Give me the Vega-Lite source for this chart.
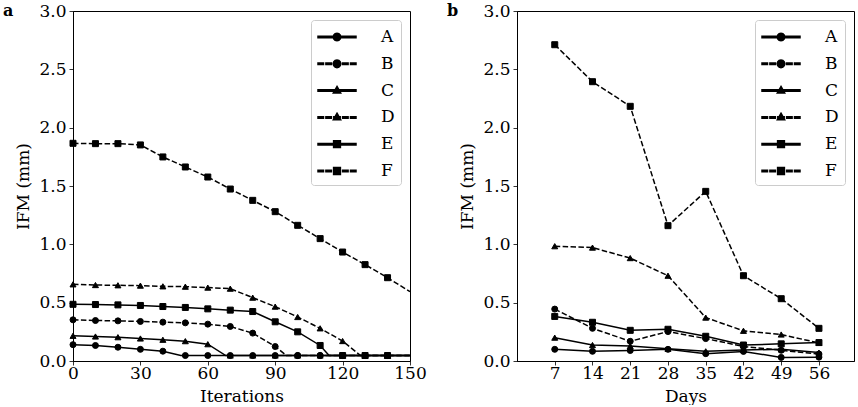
{
 "$schema": "https://vega.github.io/schema/vega-lite/v6.json",
 "padding": {"left": 2, "top": 1, "right": 2, "bottom": 0},
 "datasets": {
  "iter": [
   {"x":0,"y":0.14,"s":"A"},{"x":10,"y":0.133,"s":"A"},{"x":20,"y":0.118,"s":"A"},{"x":30,"y":0.1,"s":"A"},{"x":40,"y":0.084,"s":"A"},{"x":48,"y":0.047,"s":"A"},{"x":50,"y":0.047,"s":"A"},{"x":60,"y":0.047,"s":"A"},{"x":70,"y":0.047,"s":"A"},{"x":80,"y":0.047,"s":"A"},{"x":90,"y":0.047,"s":"A"},{"x":100,"y":0.047,"s":"A"},{"x":110,"y":0.047,"s":"A"},{"x":120,"y":0.047,"s":"A"},{"x":130,"y":0.047,"s":"A"},{"x":140,"y":0.047,"s":"A"},{"x":150,"y":0.047,"s":"A"},
   {"x":0,"y":0.353,"s":"B"},{"x":10,"y":0.347,"s":"B"},{"x":20,"y":0.344,"s":"B"},{"x":30,"y":0.339,"s":"B"},{"x":40,"y":0.333,"s":"B"},{"x":50,"y":0.327,"s":"B"},{"x":60,"y":0.316,"s":"B"},{"x":70,"y":0.296,"s":"B"},{"x":80,"y":0.239,"s":"B"},{"x":90,"y":0.124,"s":"B"},{"x":95,"y":0.047,"s":"B"},{"x":100,"y":0.047,"s":"B"},{"x":110,"y":0.047,"s":"B"},{"x":120,"y":0.047,"s":"B"},{"x":130,"y":0.047,"s":"B"},{"x":140,"y":0.047,"s":"B"},{"x":150,"y":0.047,"s":"B"},
   {"x":0,"y":0.216,"s":"C"},{"x":10,"y":0.21,"s":"C"},{"x":20,"y":0.204,"s":"C"},{"x":30,"y":0.193,"s":"C"},{"x":40,"y":0.182,"s":"C"},{"x":50,"y":0.17,"s":"C"},{"x":60,"y":0.144,"s":"C"},{"x":68,"y":0.047,"s":"C"},{"x":70,"y":0.047,"s":"C"},{"x":80,"y":0.047,"s":"C"},{"x":90,"y":0.047,"s":"C"},{"x":100,"y":0.047,"s":"C"},{"x":110,"y":0.047,"s":"C"},{"x":120,"y":0.047,"s":"C"},{"x":130,"y":0.047,"s":"C"},{"x":140,"y":0.047,"s":"C"},{"x":150,"y":0.047,"s":"C"},
   {"x":0,"y":0.657,"s":"D"},{"x":10,"y":0.651,"s":"D"},{"x":20,"y":0.649,"s":"D"},{"x":30,"y":0.646,"s":"D"},{"x":40,"y":0.64,"s":"D"},{"x":50,"y":0.637,"s":"D"},{"x":60,"y":0.629,"s":"D"},{"x":70,"y":0.62,"s":"D"},{"x":80,"y":0.543,"s":"D"},{"x":90,"y":0.466,"s":"D"},{"x":100,"y":0.377,"s":"D"},{"x":110,"y":0.28,"s":"D"},{"x":120,"y":0.171,"s":"D"},{"x":128,"y":0.047,"s":"D"},{"x":130,"y":0.047,"s":"D"},{"x":140,"y":0.047,"s":"D"},{"x":150,"y":0.047,"s":"D"},
   {"x":0,"y":0.486,"s":"E"},{"x":10,"y":0.484,"s":"E"},{"x":20,"y":0.481,"s":"E"},{"x":30,"y":0.476,"s":"E"},{"x":40,"y":0.467,"s":"E"},{"x":50,"y":0.459,"s":"E"},{"x":60,"y":0.447,"s":"E"},{"x":70,"y":0.436,"s":"E"},{"x":80,"y":0.424,"s":"E"},{"x":90,"y":0.336,"s":"E"},{"x":100,"y":0.25,"s":"E"},{"x":110,"y":0.133,"s":"E"},{"x":114,"y":0.047,"s":"E"},{"x":120,"y":0.047,"s":"E"},{"x":130,"y":0.047,"s":"E"},{"x":140,"y":0.047,"s":"E"},{"x":150,"y":0.047,"s":"E"},
   {"x":0,"y":1.866,"s":"F"},{"x":10,"y":1.863,"s":"F"},{"x":20,"y":1.863,"s":"F"},{"x":30,"y":1.852,"s":"F"},{"x":40,"y":1.749,"s":"F"},{"x":50,"y":1.663,"s":"F"},{"x":60,"y":1.577,"s":"F"},{"x":70,"y":1.474,"s":"F"},{"x":80,"y":1.377,"s":"F"},{"x":90,"y":1.28,"s":"F"},{"x":100,"y":1.163,"s":"F"},{"x":110,"y":1.049,"s":"F"},{"x":120,"y":0.934,"s":"F"},{"x":130,"y":0.826,"s":"F"},{"x":140,"y":0.714,"s":"F"},{"x":150,"y":0.594,"s":"F"}
  ],
  "days": [
   {"x":7,"y":0.1,"s":"A"},{"x":14,"y":0.083,"s":"A"},{"x":21,"y":0.09,"s":"A"},{"x":28,"y":0.1,"s":"A"},{"x":35,"y":0.063,"s":"A"},{"x":42,"y":0.082,"s":"A"},{"x":49,"y":0.031,"s":"A"},{"x":56,"y":0.033,"s":"A"},
   {"x":7,"y":0.445,"s":"B"},{"x":14,"y":0.28,"s":"B"},{"x":21,"y":0.169,"s":"B"},{"x":28,"y":0.252,"s":"B"},{"x":35,"y":0.192,"s":"B"},{"x":42,"y":0.125,"s":"B"},{"x":49,"y":0.092,"s":"B"},{"x":56,"y":0.06,"s":"B"},
   {"x":7,"y":0.2,"s":"C"},{"x":14,"y":0.137,"s":"C"},{"x":21,"y":0.128,"s":"C"},{"x":28,"y":0.105,"s":"C"},{"x":35,"y":0.083,"s":"C"},{"x":42,"y":0.095,"s":"C"},{"x":49,"y":0.1,"s":"C"},{"x":56,"y":0.072,"s":"C"},
   {"x":7,"y":0.984,"s":"D"},{"x":14,"y":0.972,"s":"D"},{"x":21,"y":0.882,"s":"D"},{"x":28,"y":0.731,"s":"D"},{"x":35,"y":0.372,"s":"D"},{"x":42,"y":0.259,"s":"D"},{"x":49,"y":0.227,"s":"D"},{"x":56,"y":0.155,"s":"D"},
   {"x":7,"y":0.382,"s":"E"},{"x":14,"y":0.332,"s":"E"},{"x":21,"y":0.263,"s":"E"},{"x":28,"y":0.272,"s":"E"},{"x":35,"y":0.212,"s":"E"},{"x":42,"y":0.137,"s":"E"},{"x":49,"y":0.147,"s":"E"},{"x":56,"y":0.158,"s":"E"},
   {"x":7,"y":2.711,"s":"F"},{"x":14,"y":2.394,"s":"F"},{"x":21,"y":2.183,"s":"F"},{"x":28,"y":1.16,"s":"F"},{"x":35,"y":1.454,"s":"F"},{"x":42,"y":0.731,"s":"F"},{"x":49,"y":0.534,"s":"F"},{"x":56,"y":0.28,"s":"F"}
  ]
 },
 "spacing": 107,
 "bounds": "flush",
 "resolve": {"scale": {"shape": "independent", "opacity": "independent"}, "legend": {"shape": "independent", "opacity": "independent"}},
 "hconcat": [
  {
   "width": 337, "height": 350,
   "title": {"text": "a"},
   "data": {"name": "iter"},
   "encoding": {
    "x": {"field": "x", "type": "quantitative", "scale": {"domain": [0, 150], "nice": false, "zero": false}, "axis": {"values": [0, 30, 60, 90, 120, 150], "title": "Iterations"}},
    "y": {"field": "y", "type": "quantitative", "scale": {"domain": [0, 3], "nice": false}, "axis": {"values": [0, 0.5, 1, 1.5, 2, 2.5, 3], "format": ".1f", "title": "IFM (mm)"}}
   },
   "layer": [
    {"transform": [{"filter": "datum.s === 'A' || datum.s === 'C' || datum.s === 'E'"}],
     "mark": {"type": "line", "color": "black", "strokeWidth": 1.5},
     "encoding": {"detail": {"field": "s"}}},
    {"transform": [{"filter": "datum.s === 'B' || datum.s === 'D' || datum.s === 'F'"}],
     "mark": {"type": "line", "color": "black", "strokeWidth": 1.5, "strokeDash": [5.5, 2.4]},
     "encoding": {"detail": {"field": "s"}}},
    {"transform": [{"filter": "datum.x % 10 === 0 && datum.x <= 140"}],
     "mark": {"type": "point", "filled": true, "color": "black", "stroke": "black", "strokeWidth": 1, "size": 36},
     "encoding": {
      "shape": {"field": "s", "type": "nominal", "scale": {"domain": ["A","B","C","D","E","F"], "range": ["circle","circle","triangle-up","triangle-up","square","square"]}, "legend": null},
      "opacity": {"field": "s", "type": "ordinal", "scale": {"range": [1, 1, 1, 1, 1, 1]},
       "legend": {"title": null, "orient": "top-right", "offset": 9, "symbolSize": 400, "symbolOffset": 9, "symbolFillColor": "black",
        "symbolType": {"expr": "(datum.value==='A'||datum.value==='C'||datum.value==='E' ? 'M-1.9,-0.075L1.9,-0.075L1.9,0.075L-1.9,0.075Z' : 'M-1.9,-0.075L-1.35,-0.075L-1.35,0.075L-1.9,0.075ZM-1.11,-0.075L-0.56,-0.075L-0.56,0.075L-1.11,0.075ZM-0.32,-0.075L0.32,-0.075L0.32,0.075L-0.32,0.075ZM0.56,-0.075L1.11,-0.075L1.11,0.075L0.56,0.075ZM1.35,-0.075L1.9,-0.075L1.9,0.075L1.35,0.075Z') + (datum.value==='A'||datum.value==='B' ? 'M0.38,0L0.329,0.19L0.19,0.329L0,0.38L-0.19,0.329L-0.329,0.19L-0.38,0L-0.329,-0.19L-0.19,-0.329L0,-0.38L0.19,-0.329L0.329,-0.19Z' : (datum.value==='C'||datum.value==='D' ? 'M0,-0.42L0.37,0.23L-0.37,0.23Z' : 'M-0.34,-0.34L0.34,-0.34L0.34,0.34L-0.34,0.34Z'))"},
        "labelOffset": 33, "rowPadding": 7.8, "padding": 6, "strokeColor": "#cccccc", "fillColor": "white", "cornerRadius": 3, "labelFontSize": 17, "labelFont": "DejaVu Serif", "labelColor": "black"}}}}
   ]
  },
  {
   "width": 337, "height": 350,
   "title": {"text": "b"},
   "data": {"name": "days"},
   "encoding": {
    "x": {"field": "x", "type": "quantitative", "scale": {"domain": [0, 62.5], "nice": false, "zero": false}, "axis": {"values": [7, 14, 21, 28, 35, 42, 49, 56], "title": "Days"}},
    "y": {"field": "y", "type": "quantitative", "scale": {"domain": [0, 3], "nice": false}, "axis": {"values": [0, 0.5, 1, 1.5, 2, 2.5, 3], "format": ".1f", "title": "IFM (mm)"}}
   },
   "layer": [
    {"transform": [{"filter": "datum.s === 'A' || datum.s === 'C' || datum.s === 'E'"}],
     "mark": {"type": "line", "color": "black", "strokeWidth": 1.5},
     "encoding": {"detail": {"field": "s"}}},
    {"transform": [{"filter": "datum.s === 'B' || datum.s === 'D' || datum.s === 'F'"}],
     "mark": {"type": "line", "color": "black", "strokeWidth": 1.5, "strokeDash": [5.5, 2.4]},
     "encoding": {"detail": {"field": "s"}}},
    {"mark": {"type": "point", "filled": true, "color": "black", "stroke": "black", "strokeWidth": 1, "size": 36},
     "encoding": {
      "shape": {"field": "s", "type": "nominal", "scale": {"domain": ["A","B","C","D","E","F"], "range": ["circle","circle","triangle-up","triangle-up","square","square"]}, "legend": null},
      "opacity": {"field": "s", "type": "ordinal", "scale": {"range": [1, 1, 1, 1, 1, 1]},
       "legend": {"title": null, "orient": "top-right", "offset": 9, "symbolSize": 400, "symbolOffset": 9, "symbolFillColor": "black",
        "symbolType": {"expr": "(datum.value==='A'||datum.value==='C'||datum.value==='E' ? 'M-1.9,-0.075L1.9,-0.075L1.9,0.075L-1.9,0.075Z' : 'M-1.9,-0.075L-1.35,-0.075L-1.35,0.075L-1.9,0.075ZM-1.11,-0.075L-0.56,-0.075L-0.56,0.075L-1.11,0.075ZM-0.32,-0.075L0.32,-0.075L0.32,0.075L-0.32,0.075ZM0.56,-0.075L1.11,-0.075L1.11,0.075L0.56,0.075ZM1.35,-0.075L1.9,-0.075L1.9,0.075L1.35,0.075Z') + (datum.value==='A'||datum.value==='B' ? 'M0.38,0L0.329,0.19L0.19,0.329L0,0.38L-0.19,0.329L-0.329,0.19L-0.38,0L-0.329,-0.19L-0.19,-0.329L0,-0.38L0.19,-0.329L0.329,-0.19Z' : (datum.value==='C'||datum.value==='D' ? 'M0,-0.42L0.37,0.23L-0.37,0.23Z' : 'M-0.34,-0.34L0.34,-0.34L0.34,0.34L-0.34,0.34Z'))"},
        "labelOffset": 33, "rowPadding": 7.8, "padding": 6, "strokeColor": "#cccccc", "fillColor": "white", "cornerRadius": 3, "labelFontSize": 17, "labelFont": "DejaVu Serif", "labelColor": "black"}}}}
   ]
  }
 ],
 "config": {
  "font": "DejaVu Serif",
  "background": "white",
  "view": {"stroke": "black", "strokeWidth": 1},
  "axis": {"grid": false, "domainColor": "black", "tickColor": "black", "labelColor": "black", "titleColor": "black", "labelFont": "DejaVu Serif", "titleFont": "DejaVu Serif", "labelFontSize": 17, "titleFontSize": 17, "titleFontWeight": "normal", "tickSize": 4, "tickWidth": 0.8, "labelPadding": 3, "titlePadding": 6, "labelFlush": false, "labelOverlap": false},
  "axisX": {"labelPadding": 0, "titlePadding": 7},
  "title": {"font": "DejaVu Serif", "fontSize": 16, "fontWeight": "bold", "color": "black", "anchor": "start", "frame": "bounds", "offset": -17, "dx": -12}
 }
}
